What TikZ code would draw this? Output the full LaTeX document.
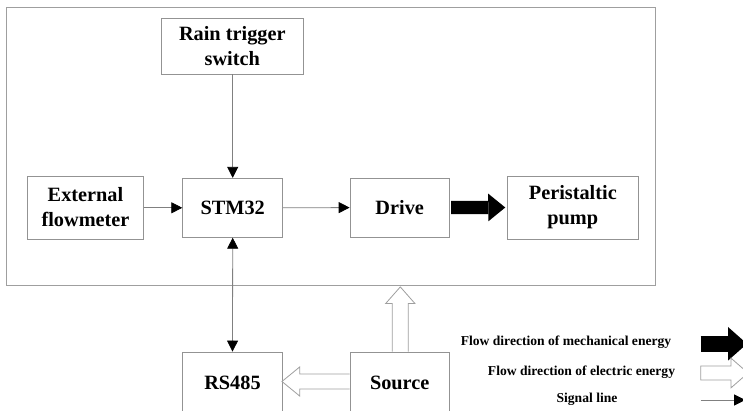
\documentclass[tikz,border=0pt]{standalone}
\usepackage{fontspec}
\setmainfont{Liberation Serif}
\usetikzlibrary{arrows.meta,calc}

\tikzset{
	blk/.style={draw=gray!85, line width=0.8pt, inner sep=2pt, align=center,
		font=\fontsize{20.3}{25}\selectfont\bfseries},
	frame/.style={draw=gray!75, line width=1pt},
	sig/.style={draw=gray, line width=0.8pt,
		-{Triangle[length=11pt,width=11pt,color=black]}},
	sigboth/.style={sig, {Triangle[length=11pt,width=11pt,color=black]}-{Triangle[length=11pt,width=11pt,color=black]}},
	mech/.style={line width=13.3pt, -{Triangle[length=17pt,width=27.7pt,line width=0pt]}},
	mechkey/.style={line width=15.7pt, -{Triangle[length=19pt,width=33.6pt,line width=0pt]}},
	elec/.style={draw=gray!75, line width=0.8pt, fill=white},
	key/.style={font=\fontsize{13.6}{15}\selectfont\bfseries},
}

\begin{document}
\begin{tikzpicture}[x=1pt, y=1pt]
		\useasboundingbox (0,0) rectangle (743,411);
		\clip (0,0) rectangle (743,411);
		
		%%%%% control unit %%%%%
		\node[frame, minimum width=649.7pt, minimum height=278pt] (sys) at (330.85,264) {};
		
		\node[blk, minimum width=141.3pt, minimum height=56pt] (rain) at (232.3,365) {Rain trigger\\switch};
		\node[blk, minimum width=115.6pt, minimum height=63pt] (ext) at (85.5,203.5) {External\\flowmeter};
		\node[blk, minimum width=100pt, minimum height=59pt] (stm) at (232.7,203.2) {STM32};
		\node[blk, minimum width=99.3pt, minimum height=59.3pt] (drv) at (399.7,203.4) {Drive};
		\node[blk, minimum width=131.7pt, minimum height=63pt] (pump) at (572.8,203.5) {Peristaltic\\pump};
		
		%%%%% outside %%%%%
		\node[blk, minimum width=99.6pt, minimum height=62pt] (rs) at (232.5,28) {RS485};
		\node[blk, minimum width=99.3pt, minimum height=62pt] (src) at (399.7,28) {Source};
		
		% signal lines
		\draw[sig] (rain.south -| stm.north) -- (stm.north);
		\draw[sig] (ext.east |- stm.west) -- (stm.west);
		\draw[sig] (stm.east) -- (drv.west);
		\draw[sigboth] (stm.south) -- (rs.north);
		
		% mechanical energy
		\draw[mech, shorten <=1.4pt, shorten >=1.3pt] (drv.east) -- (pump.west);
		
		% electric energy
		\draw[elec] ([xshift=0.6pt]src.north) ++(-8,0) -- ++(0,48) -- ++(-6.7,0) -- ++(14.7,16.7)
			-- ++(14.7,-16.7) -- ++(-6.7,0) -- ++(0,-48);
		\draw[elec] ([yshift=1.5pt]src.west) ++(0,7.5) -- ++(-50,0) -- ++(0,7) -- ++(-17.7,-14.5)
			-- ++(17.7,-14.5) -- ++(0,7) -- ++(50,0);
		
		%%%%% legend %%%%%
		\node[key] (kmechtxt) at (566,69) {Flow direction of mechanical energy};
		\node[key] (keletxt) at (581.5,38.3) {Flow direction of electric energy};
		\node[key] (ksigtxt) at (587,12) {Signal line};
		
		\coordinate (kmech) at (700.7,67.2);
		\coordinate (kelec) at (700.7,38);
		\coordinate (ksig) at (700.7,11);
		
		\draw[mechkey] (kmech) -- ++(46.3,0);
		\draw[elec] (kelec) ++(0,7) -- ++(30.3,0) -- ++(0,7.85) -- ++(17,-14.85)
			-- ++(-17,-14.85) -- ++(0,7.85) -- ++(-30.3,0) -- cycle;
		\draw[sig] (ksig) -- ++(44.5,0);
		
	\end{tikzpicture}
\end{document}
